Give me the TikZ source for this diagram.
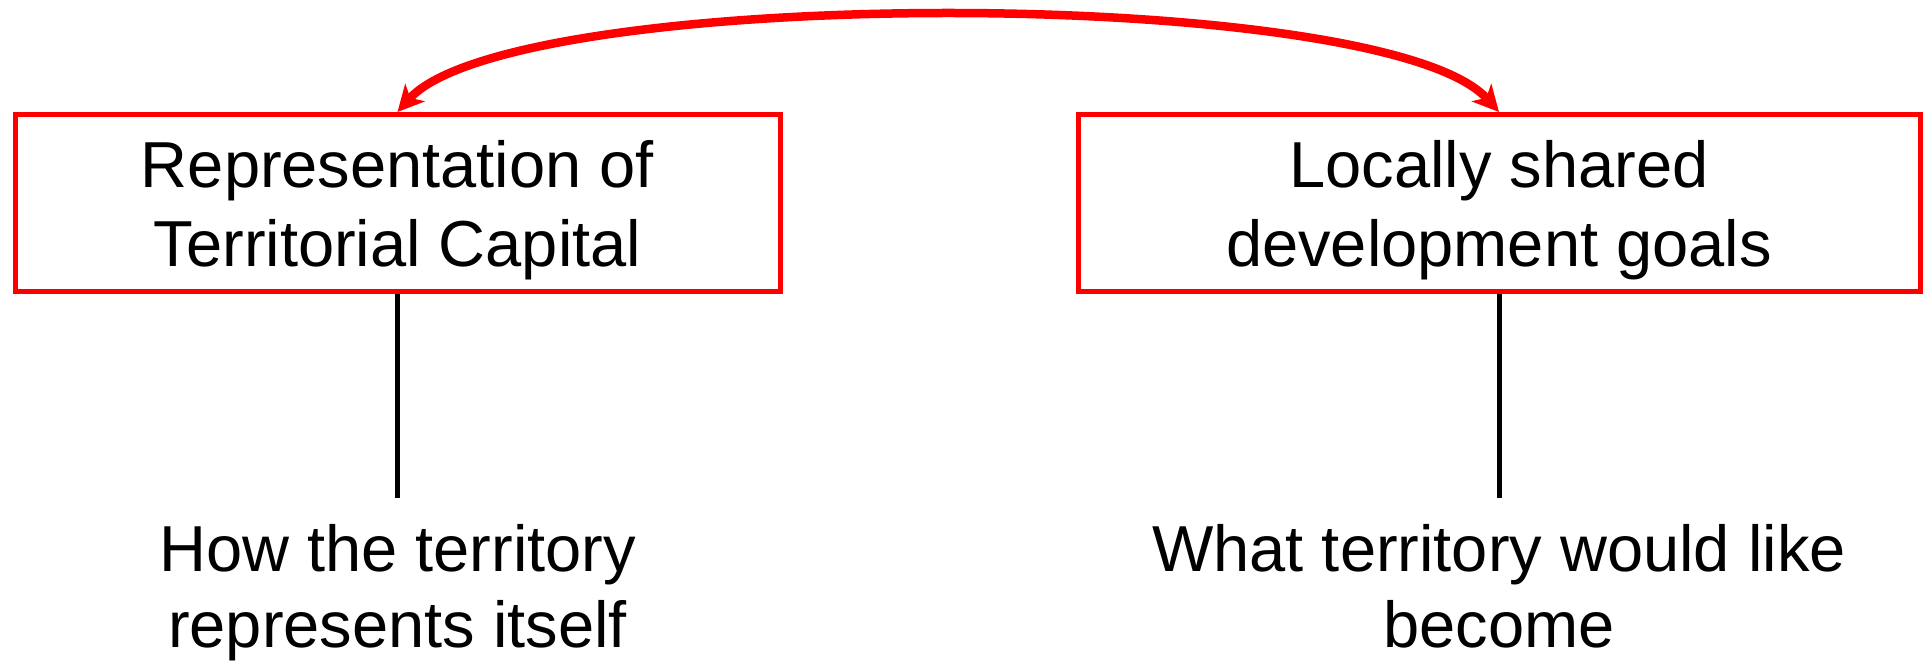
\documentclass[tikz,border=0pt]{standalone}
\usepackage{fontspec}
\setmainfont{Liberation Sans}
\usepackage{tikz}
\usetikzlibrary{arrows.meta}
\usetikzlibrary{positioning}

\begin{document}
\begin{tikzpicture}
    \tikzstyle{box}=[rectangle, draw=red, line width=2.5pt, align=center, text depth=0pt, minimum height=88.5pt, font=\fontsize{32.5pt}{39.5pt}\selectfont]
    \tikzstyle{note}=[align=center, inner sep=0pt, font=\fontsize{32.5pt}{38pt}\selectfont]
    \tikzstyle{stem}=[draw=black, line width=2.5pt]
    \tikzstyle{link}=[{Stealth[length=13pt, width=13pt, inset=3.5pt]}-{Stealth[length=13pt, width=13pt, inset=3.5pt]}, draw=red, line width=4.25pt]
    \useasboundingbox (0,0) rectangle (964pt,-330pt);
      \node[box, minimum width=382.5pt] (capital) at (198.75pt,-101.5pt) {Representation of\\Territorial Capital};
      \node[box, minimum width=421pt] (goals) [right=146.5pt of capital] {Locally shared\\development goals};

      \coordinate[below=102pt of capital.south] (capfoot);
      \coordinate[below=102pt of goals.south] (goalsfoot);
      \node[note] (how) [below=13pt of capfoot] {How the territory\\represents itself};
      \node[note] (what) [below=13pt of goalsfoot] {What territory would like\\become};

      \path (capital) edge [stem] (capfoot);
      \path (goals) edge [stem] (goalsfoot);
      \draw[link] (capital.north) to [out=48, in=132, looseness=0.40] (goals.north);
    \end{tikzpicture}
\end{document}
